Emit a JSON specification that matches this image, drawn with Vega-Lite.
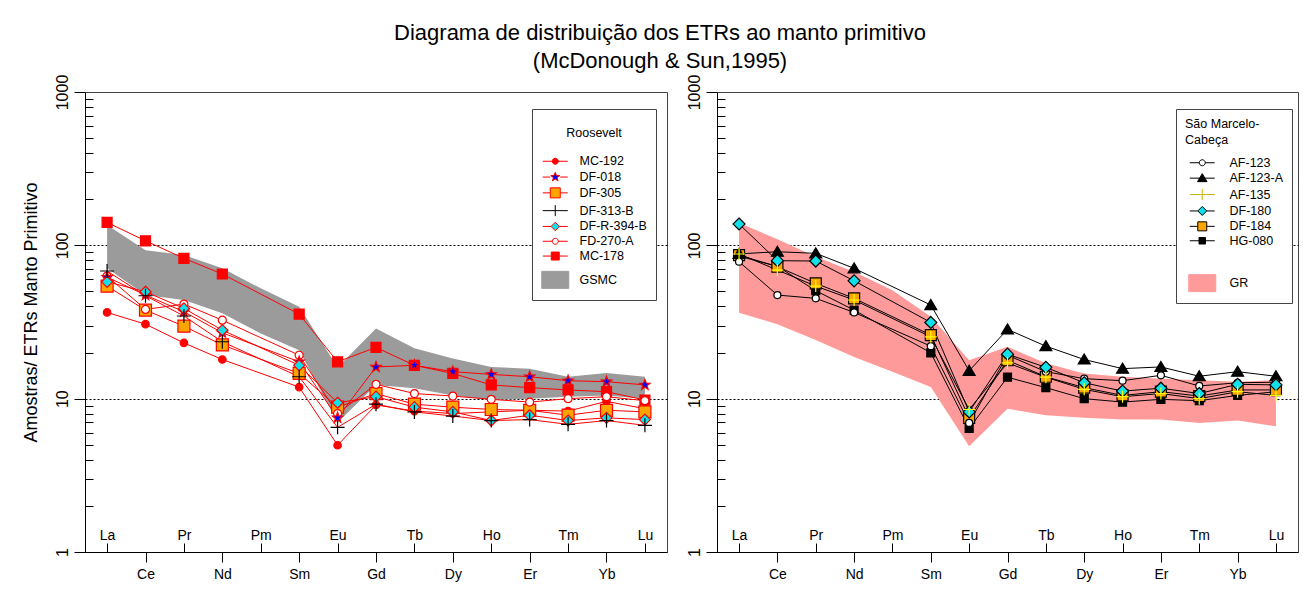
{
  "$schema": "https://vega.github.io/schema/vega-lite/v6.json",
  "autosize": {"type": "pad"},
  "padding": {"left": 21, "top": 21, "right": 0, "bottom": 0},
  "background": "white",
  "bounds": "flush",
  "spacing": 50,
  "title": {
    "text": ["Diagrama de distribuição dos ETRs ao manto primitivo", "(McDonough & Sun,1995)"],
    "fontSize": 22, "font": "Liberation Sans", "fontWeight": "normal", "color": "#000",
    "lineHeight": 28, "anchor": "middle", "dx": 0, "offset": 1
  },
  "config": {
    "view": {"stroke": "#444", "strokeWidth": 1},
    "axis": {"labelFont": "Liberation Sans", "titleFont": "Liberation Sans", "labelColor": "#000", "titleColor": "#000", "domainColor": "#000", "tickColor": "#000"},
    "legend": {"labelFont": "Liberation Sans", "titleFont": "Liberation Sans", "labelColor": "#000", "titleColor": "#000", "labelFontSize": 12.5, "titleFontSize": 12.5, "titleFontWeight": "normal", "symbolSize": 100, "symbolStrokeWidth": 1}
  },
  "datasets": {
    "roo": [
      {"sample":"MC-178","el":"La","v":141},{"sample":"MC-178","el":"Ce","v":107},{"sample":"MC-178","el":"Pr","v":82.3},{"sample":"MC-178","el":"Nd","v":65},{"sample":"MC-178","el":"Sm","v":35.6},{"sample":"MC-178","el":"Eu","v":17.4},{"sample":"MC-178","el":"Gd","v":21.6},{"sample":"MC-178","el":"Tb","v":16.5},{"sample":"MC-178","el":"Dy","v":14.6},{"sample":"MC-178","el":"Ho","v":12.3},{"sample":"MC-178","el":"Er","v":11.8},{"sample":"MC-178","el":"Tm","v":11.4},{"sample":"MC-178","el":"Yb","v":11.1},{"sample":"MC-178","el":"Lu","v":9.8},
      {"sample":"MC-192","el":"La","v":36.5},{"sample":"MC-192","el":"Ce","v":30.6},{"sample":"MC-192","el":"Pr","v":23.1},{"sample":"MC-192","el":"Nd","v":18},{"sample":"MC-192","el":"Sm","v":11.9},{"sample":"MC-192","el":"Eu","v":4.97},{"sample":"MC-192","el":"Gd","v":9.1},{"sample":"MC-192","el":"Tb","v":8.3},{"sample":"MC-192","el":"Dy","v":8.0},{"sample":"MC-192","el":"Ho","v":8.2},{"sample":"MC-192","el":"Er","v":8.4},{"sample":"MC-192","el":"Tm","v":8.3},{"sample":"MC-192","el":"Yb","v":9.6},{"sample":"MC-192","el":"Lu","v":8.6},
      {"sample":"DF-305","el":"La","v":54.2},{"sample":"DF-305","el":"Ce","v":37.8},{"sample":"DF-305","el":"Pr","v":29.7},{"sample":"DF-305","el":"Nd","v":22.4},{"sample":"DF-305","el":"Sm","v":14.6},{"sample":"DF-305","el":"Eu","v":8.8},{"sample":"DF-305","el":"Gd","v":10.8},{"sample":"DF-305","el":"Tb","v":9.2},{"sample":"DF-305","el":"Dy","v":8.8},{"sample":"DF-305","el":"Ho","v":8.5},{"sample":"DF-305","el":"Er","v":8.4},{"sample":"DF-305","el":"Tm","v":7.8},{"sample":"DF-305","el":"Yb","v":8.4},{"sample":"DF-305","el":"Lu","v":8.2},
      {"sample":"FD-270-A","el":"La","v":63},{"sample":"FD-270-A","el":"Ce","v":38.2},{"sample":"FD-270-A","el":"Pr","v":41.4},{"sample":"FD-270-A","el":"Nd","v":32.5},{"sample":"FD-270-A","el":"Sm","v":19.2},{"sample":"FD-270-A","el":"Eu","v":8.0},{"sample":"FD-270-A","el":"Gd","v":12.4},{"sample":"FD-270-A","el":"Tb","v":10.8},{"sample":"FD-270-A","el":"Dy","v":10.4},{"sample":"FD-270-A","el":"Ho","v":9.9},{"sample":"FD-270-A","el":"Er","v":9.5},{"sample":"FD-270-A","el":"Tm","v":10.0},{"sample":"FD-270-A","el":"Yb","v":10.3},{"sample":"FD-270-A","el":"Lu","v":9.7},
      {"sample":"DF-018","el":"La","v":62},{"sample":"DF-018","el":"Ce","v":47.4},{"sample":"DF-018","el":"Pr","v":36.9},{"sample":"DF-018","el":"Nd","v":26.9},{"sample":"DF-018","el":"Sm","v":17.4},{"sample":"DF-018","el":"Eu","v":7.5},{"sample":"DF-018","el":"Gd","v":16.1},{"sample":"DF-018","el":"Tb","v":16.5},{"sample":"DF-018","el":"Dy","v":15.0},{"sample":"DF-018","el":"Ho","v":14.4},{"sample":"DF-018","el":"Er","v":13.9},{"sample":"DF-018","el":"Tm","v":13.1},{"sample":"DF-018","el":"Yb","v":12.9},{"sample":"DF-018","el":"Lu","v":12.3},
      {"sample":"DF-R-394-B","el":"La","v":57.8},{"sample":"DF-R-394-B","el":"Ce","v":49.8},{"sample":"DF-R-394-B","el":"Pr","v":38.8},{"sample":"DF-R-394-B","el":"Nd","v":28},{"sample":"DF-R-394-B","el":"Sm","v":16.5},{"sample":"DF-R-394-B","el":"Eu","v":9.4},{"sample":"DF-R-394-B","el":"Gd","v":10.3},{"sample":"DF-R-394-B","el":"Tb","v":8.8},{"sample":"DF-R-394-B","el":"Dy","v":8.2},{"sample":"DF-R-394-B","el":"Ho","v":7.2},{"sample":"DF-R-394-B","el":"Er","v":7.8},{"sample":"DF-R-394-B","el":"Tm","v":7.2},{"sample":"DF-R-394-B","el":"Yb","v":7.5},{"sample":"DF-R-394-B","el":"Lu","v":7.3},
      {"sample":"DF-313-B","el":"La","v":68},{"sample":"DF-313-B","el":"Ce","v":46.9},{"sample":"DF-313-B","el":"Pr","v":34.6},{"sample":"DF-313-B","el":"Nd","v":23.5},{"sample":"DF-313-B","el":"Sm","v":13.9},{"sample":"DF-313-B","el":"Eu","v":6.5},{"sample":"DF-313-B","el":"Gd","v":9.2},{"sample":"DF-313-B","el":"Tb","v":8.2},{"sample":"DF-313-B","el":"Dy","v":7.7},{"sample":"DF-313-B","el":"Ho","v":7.2},{"sample":"DF-313-B","el":"Er","v":7.3},{"sample":"DF-313-B","el":"Tm","v":6.8},{"sample":"DF-313-B","el":"Yb","v":7.2},{"sample":"DF-313-B","el":"Lu","v":6.7}
    ],
    "smc": [
      {"sample":"HG-080","el":"La","v":85},{"sample":"HG-080","el":"Ce","v":73},{"sample":"HG-080","el":"Pr","v":50.6},{"sample":"HG-080","el":"Nd","v":37.8},{"sample":"HG-080","el":"Sm","v":19.9},{"sample":"HG-080","el":"Eu","v":6.4},{"sample":"HG-080","el":"Gd","v":13.8},{"sample":"HG-080","el":"Tb","v":11.8},{"sample":"HG-080","el":"Dy","v":10.0},{"sample":"HG-080","el":"Ho","v":9.5},{"sample":"HG-080","el":"Er","v":9.9},{"sample":"HG-080","el":"Tm","v":9.7},{"sample":"HG-080","el":"Yb","v":10.5},{"sample":"HG-080","el":"Lu","v":11.1},
      {"sample":"DF-184","el":"La","v":86.4},{"sample":"DF-184","el":"Ce","v":72.5},{"sample":"DF-184","el":"Pr","v":56.5},{"sample":"DF-184","el":"Nd","v":45.1},{"sample":"DF-184","el":"Sm","v":26},{"sample":"DF-184","el":"Eu","v":7.5},{"sample":"DF-184","el":"Gd","v":17.8},{"sample":"DF-184","el":"Tb","v":13.9},{"sample":"DF-184","el":"Dy","v":11.8},{"sample":"DF-184","el":"Ho","v":10.5},{"sample":"DF-184","el":"Er","v":11.1},{"sample":"DF-184","el":"Tm","v":10.4},{"sample":"DF-184","el":"Yb","v":11.4},{"sample":"DF-184","el":"Lu","v":11.4},
      {"sample":"AF-123-A","el":"La","v":88},{"sample":"AF-123-A","el":"Ce","v":90.8},{"sample":"AF-123-A","el":"Pr","v":88.7},{"sample":"AF-123-A","el":"Nd","v":70.8},{"sample":"AF-123-A","el":"Sm","v":40.8},{"sample":"AF-123-A","el":"Eu","v":15.2},{"sample":"AF-123-A","el":"Gd","v":28.3},{"sample":"AF-123-A","el":"Tb","v":22},{"sample":"AF-123-A","el":"Dy","v":18},{"sample":"AF-123-A","el":"Ho","v":15.7},{"sample":"AF-123-A","el":"Er","v":16.1},{"sample":"AF-123-A","el":"Tm","v":14},{"sample":"AF-123-A","el":"Yb","v":15},{"sample":"AF-123-A","el":"Lu","v":14},
      {"sample":"AF-123","el":"La","v":78.2},{"sample":"AF-123","el":"Ce","v":47.4},{"sample":"AF-123","el":"Pr","v":45.1},{"sample":"AF-123","el":"Nd","v":36.5},{"sample":"AF-123","el":"Sm","v":22},{"sample":"AF-123","el":"Eu","v":6.95},{"sample":"AF-123","el":"Gd","v":19.2},{"sample":"AF-123","el":"Tb","v":15},{"sample":"AF-123","el":"Dy","v":13.5},{"sample":"AF-123","el":"Ho","v":13.1},{"sample":"AF-123","el":"Er","v":14.2},{"sample":"AF-123","el":"Tm","v":12.1},{"sample":"AF-123","el":"Yb","v":12.7},{"sample":"AF-123","el":"Lu","v":12.8},
      {"sample":"DF-180","el":"La","v":137.8},{"sample":"DF-180","el":"Ce","v":79.4},{"sample":"DF-180","el":"Pr","v":79},{"sample":"DF-180","el":"Nd","v":58.7},{"sample":"DF-180","el":"Sm","v":31.4},{"sample":"DF-180","el":"Eu","v":8.2},{"sample":"DF-180","el":"Gd","v":19.5},{"sample":"DF-180","el":"Tb","v":16},{"sample":"DF-180","el":"Dy","v":12.7},{"sample":"DF-180","el":"Ho","v":11.2},{"sample":"DF-180","el":"Er","v":11.7},{"sample":"DF-180","el":"Tm","v":10.8},{"sample":"DF-180","el":"Yb","v":12.4},{"sample":"DF-180","el":"Lu","v":12.3},
      {"sample":"AF-135","el":"La","v":87.8},{"sample":"AF-135","el":"Ce","v":69},{"sample":"AF-135","el":"Pr","v":54.2},{"sample":"AF-135","el":"Nd","v":44},{"sample":"AF-135","el":"Sm","v":25.3},{"sample":"AF-135","el":"Eu","v":8.5},{"sample":"AF-135","el":"Gd","v":17.1},{"sample":"AF-135","el":"Tb","v":13.8},{"sample":"AF-135","el":"Dy","v":11.5},{"sample":"AF-135","el":"Ho","v":10.3},{"sample":"AF-135","el":"Er","v":10.8},{"sample":"AF-135","el":"Tm","v":10},{"sample":"AF-135","el":"Yb","v":11.1},{"sample":"AF-135","el":"Lu","v":10.5}
    ],
    "gsmc": [
      {"el":"La","lo":70.8,"hi":135.7},{"el":"Ce","lo":47.4,"hi":93},{"el":"Pr","lo":44,"hi":86.4},{"el":"Nd","lo":36,"hi":70.8},{"el":"Pm","lo":26.6,"hi":52.4},{"el":"Sm","lo":20.7,"hi":39.7},{"el":"Eu","lo":7.0,"hi":16},{"el":"Gd","lo":12.3,"hi":28.7},{"el":"Tb","lo":11.7,"hi":21.3},{"el":"Dy","lo":10.5,"hi":18.3},{"el":"Ho","lo":9.8,"hi":16.1},{"el":"Er","lo":10,"hi":15.7},{"el":"Tm","lo":10.3,"hi":13.9},{"el":"Yb","lo":10.5,"hi":14.7},{"el":"Lu","lo":10,"hi":13.9}
    ],
    "gr": [
      {"el":"La","lo":36.3,"hi":140.4},{"el":"Ce","lo":30.6,"hi":109.4},{"el":"Pr","lo":24.1,"hi":84.2},{"el":"Nd","lo":18.7,"hi":67.3},{"el":"Pm","lo":15,"hi":51},{"el":"Sm","lo":11.9,"hi":34.2},{"el":"Eu","lo":4.9,"hi":17.8},{"el":"Gd","lo":8.6,"hi":21.8},{"el":"Tb","lo":7.8,"hi":17},{"el":"Dy","lo":7.5,"hi":14.6},{"el":"Ho","lo":7.3,"hi":13.9},{"el":"Er","lo":7.3,"hi":13.5},{"el":"Tm","lo":6.95,"hi":13.2},{"el":"Yb","lo":7.2,"hi":12.9},{"el":"Lu","lo":6.6,"hi":13.2}
    ]
  },
  "hconcat": [
    {
      "width": 582, "height": 460,
      "layer": [
        {
          "data": {"name": "gsmc"},
          "mark": {"type": "area", "color": "#9b9b9b", "opacity": 1},
          "encoding": {
            "x": {"field": "el", "type": "ordinal", "sort": ["La","Ce","Pr","Nd","Pm","Sm","Eu","Gd","Tb","Dy","Ho","Er","Tm","Yb","Lu"],
              "scale": {"type": "point", "domain": ["La","Ce","Pr","Nd","Pm","Sm","Eu","Gd","Tb","Dy","Ho","Er","Tm","Yb","Lu"], "padding": 0.575},
              "axis": {"title": null, "labelAngle": 0, "labelFontSize": 14, "labelBaseline": "alphabetic", "grid": false,
                "tickSize": {"condition": {"test": "indexof(['La','Pr','Pm','Eu','Tb','Ho','Tm','Lu'], datum.value) >= 0", "value": -9}, "value": 10},
                "labelPadding": {"condition": {"test": "indexof(['La','Pr','Pm','Eu','Tb','Ho','Tm','Lu'], datum.value) >= 0", "value": -4}, "value": 16}}},
            "y": {"field": "lo", "type": "quantitative",
              "scale": {"type": "log", "domain": [1, 1000], "nice": false},
              "axis": {"title": "Amostras/ ETRs Manto Primitivo", "titleFontSize": 18, "titleFontWeight": "normal", "titleAngle": 270, "titleX": -49, "titleY": 220, "titleAlign": "center", "titleBaseline": "alphabetic",
                "values": [1,2,3,4,5,6,7,8,9,10,20,30,40,50,60,70,80,90,100,200,300,400,500,600,700,800,900,1000],
                "labelExpr": "(datum.value==1||datum.value==10||datum.value==100||datum.value==1000) ? datum.value + '' : ''",
                "labelAngle": 270, "labelAlign": "center", "labelBaseline": "alphabetic", "labelFontSize": 16, "labelPadding": 7, "labelFlush": false, "labelOverlap": false, "labelBound": false,
                "tickSize": {"condition": {"test": "datum.value==1||datum.value==10||datum.value==100||datum.value==1000", "value": 11}, "value": -8},
                "grid": true, "gridColor": "#000", "gridDash": [2, 2], "gridWidth": 1,
                "gridOpacity": {"condition": {"test": "datum.value==10||datum.value==100", "value": 1}, "value": 0}}},
            "y2": {"field": "hi"}
          }
        },
        {
          "data": {"name": "roo"},
          "mark": {"type": "line", "color": "#ff0000", "strokeWidth": 1},
          "encoding": {
            "x": {"field": "el", "type": "ordinal", "sort": ["La","Ce","Pr","Nd","Pm","Sm","Eu","Gd","Tb","Dy","Ho","Er","Tm","Yb","Lu"]},
            "y": {"field": "v", "type": "quantitative"},
            "detail": {"field": "sample"}
          }
        },
        {
          "data": {"name": "roo"},
          "mark": {"type": "point", "filled": true, "opacity": 1, "size": 100, "strokeWidth": 1.2},
          "encoding": {
            "x": {"field": "el", "type": "ordinal", "sort": ["La","Ce","Pr","Nd","Pm","Sm","Eu","Gd","Tb","Dy","Ho","Er","Tm","Yb","Lu"]},
            "y": {"field": "v", "type": "quantitative"},
            "shape": {"field": "sample", "type": "nominal", "legend": null, "scale": {"domain": ["MC-192","DF-018","DF-305","DF-313-B","DF-R-394-B","FD-270-A","MC-178"],
              "range": ["M-0.75,0A0.75,0.75 0 1,0 0.75,0A0.75,0.75 0 1,0 -0.75,0Z",
                "M0,-1.1L0.27,-0.372L1.046,-0.34L0.437,0.142L0.647,0.89L0,0.46L-0.647,0.89L-0.437,0.142L-1.046,-0.34L-0.27,-0.372Z",
                "M-1.2,-1.2H1.2V1.2H-1.2Z",
                "M-1.4,0H1.4M0,-1.4V1.4",
                "M0,-1.1L1.1,0L0,1.1L-1.1,0Z",
                "M-0.8,0A0.8,0.8 0 1,0 0.8,0A0.8,0.8 0 1,0 -0.8,0Z",
                "M-1,-1H1V1H-1Z"]}},
            "fill": {"field": "sample", "type": "nominal", "legend": null, "scale": {"domain": ["MC-192","DF-018","DF-305","DF-313-B","DF-R-394-B","FD-270-A","MC-178"],
              "range": ["#ff0000","#0000ff","#ffa500","transparent","#10e0ea","#ffffff","#ff0000"]}},
            "stroke": {"field": "sample", "type": "nominal", "legend": null, "scale": {"domain": ["MC-192","DF-018","DF-305","DF-313-B","DF-R-394-B","FD-270-A","MC-178"],
              "range": ["#ff0000","#ff0000","#ff0000","#000000","#ff0000","#ff0000","#ff0000"]}}
          }
        },
        {
          "data": {"name": "roo"},
          "transform": [{"filter": "false"}],
          "mark": {"type": "point", "filled": true, "opacity": 1, "size": 100, "strokeWidth": 1},
          "encoding": {
            "shape": {"field": "sample", "type": "nominal",
              "scale": {"domain": ["MC-192","DF-018","DF-305","DF-313-B","DF-R-394-B","FD-270-A","MC-178","GSMC"],
                "range": ["M-2.5,0H2.5M-0.6,0A0.6,0.6 0 1,0 0.6,0A0.6,0.6 0 1,0 -0.6,0Z",
                  "M-2.5,0H-1M1,0H2.5M0,-0.95L0.23,-0.32L0.9,-0.29L0.37,0.12L0.56,0.77L0,0.4L-0.56,0.77L-0.37,0.12L-0.9,-0.29L-0.23,-0.32Z",
                  "M-2.5,0H-1M1,0H2.5M-1,-1H1V1H-1Z",
                  "M-2.5,0H2.5M0,-1.1V1.1",
                  "M-2.5,0H-0.85M0.85,0H2.5M0,-0.85L0.85,0L0,0.85L-0.85,0Z",
                  "M-2.5,0H-0.6M0.6,0H2.5M-0.6,0A0.6,0.6 0 1,0 0.6,0A0.6,0.6 0 1,0 -0.6,0Z",
                  "M-2.5,0H-0.8M0.8,0H2.5M-0.8,-0.8H0.8V0.8H-0.8Z",
                  "M0,-2.5M-2.7,-1.7H2.7V1.7H-2.7Z"]},
              "legend": {"title": ["", "Roosevelt"], "orient": "none", "legendX": 447, "legendY": 17, "titleAnchor": "middle", "titleLineHeight": 8.5, "titlePadding": 16, "padding": 9, "rowPadding": 1.8, "symbolOffset": 8, "labelOffset": 18, "strokeColor": "#444", "fillColor": "#ffffff"}},
            "fill": {"field": "sample", "type": "nominal",
              "scale": {"domain": ["MC-192","DF-018","DF-305","DF-313-B","DF-R-394-B","FD-270-A","MC-178","GSMC"],
                "range": ["#ff0000","#0000ff","#ffa500","transparent","#10e0ea","#ffffff","#ff0000","#9b9b9b"]},
              "legend": {"title": ["", "Roosevelt"], "orient": "none", "legendX": 447, "legendY": 17, "titleAnchor": "middle", "titleLineHeight": 8.5, "titlePadding": 16, "padding": 9, "rowPadding": 1.8, "symbolOffset": 8, "labelOffset": 18, "strokeColor": "#444", "fillColor": "#ffffff"}},
            "stroke": {"field": "sample", "type": "nominal",
              "scale": {"domain": ["MC-192","DF-018","DF-305","DF-313-B","DF-R-394-B","FD-270-A","MC-178","GSMC"],
                "range": ["#ff0000","#ff0000","#ff0000","#000000","#ff0000","#ff0000","#ff0000","#9b9b9b"]},
              "legend": {"title": ["", "Roosevelt"], "orient": "none", "legendX": 447, "legendY": 17, "titleAnchor": "middle", "titleLineHeight": 8.5, "titlePadding": 16, "padding": 9, "rowPadding": 1.8, "symbolOffset": 8, "labelOffset": 18, "strokeColor": "#444", "fillColor": "#ffffff"}}
          }
        }
      ],
      "resolve": {"scale": {"shape": "independent", "fill": "independent", "stroke": "independent"}}
    },
    {
      "width": 581, "height": 460,
      "layer": [
        {
          "data": {"name": "gr"},
          "mark": {"type": "area", "color": "#ff9a9a", "opacity": 1},
          "encoding": {
            "x": {"field": "el", "type": "ordinal", "sort": ["La","Ce","Pr","Nd","Pm","Sm","Eu","Gd","Tb","Dy","Ho","Er","Tm","Yb","Lu"],
              "scale": {"type": "point", "domain": ["La","Ce","Pr","Nd","Pm","Sm","Eu","Gd","Tb","Dy","Ho","Er","Tm","Yb","Lu"], "padding": 0.575},
              "axis": {"title": null, "labelAngle": 0, "labelFontSize": 14, "labelBaseline": "alphabetic", "grid": false,
                "tickSize": {"condition": {"test": "indexof(['La','Pr','Pm','Eu','Tb','Ho','Tm','Lu'], datum.value) >= 0", "value": -9}, "value": 10},
                "labelPadding": {"condition": {"test": "indexof(['La','Pr','Pm','Eu','Tb','Ho','Tm','Lu'], datum.value) >= 0", "value": -4}, "value": 16}}},
            "y": {"field": "lo", "type": "quantitative",
              "scale": {"type": "log", "domain": [1, 1000], "nice": false},
              "axis": {"title": null,
                "values": [1,2,3,4,5,6,7,8,9,10,20,30,40,50,60,70,80,90,100,200,300,400,500,600,700,800,900,1000],
                "labelExpr": "(datum.value==1||datum.value==10||datum.value==100||datum.value==1000) ? datum.value + '' : ''",
                "labelAngle": 270, "labelAlign": "center", "labelBaseline": "alphabetic", "labelFontSize": 16, "labelPadding": 7, "labelFlush": false, "labelOverlap": false, "labelBound": false,
                "tickSize": {"condition": {"test": "datum.value==1||datum.value==10||datum.value==100||datum.value==1000", "value": 11}, "value": -8},
                "grid": true, "gridColor": "#000", "gridDash": [2, 2], "gridWidth": 1,
                "gridOpacity": {"condition": {"test": "datum.value==10||datum.value==100", "value": 1}, "value": 0}}},
            "y2": {"field": "hi"}
          }
        },
        {
          "data": {"name": "smc"},
          "mark": {"type": "line", "color": "#000000", "strokeWidth": 1},
          "encoding": {
            "x": {"field": "el", "type": "ordinal", "sort": ["La","Ce","Pr","Nd","Pm","Sm","Eu","Gd","Tb","Dy","Ho","Er","Tm","Yb","Lu"]},
            "y": {"field": "v", "type": "quantitative"},
            "detail": {"field": "sample"}
          }
        },
        {
          "data": {"name": "smc"},
          "mark": {"type": "point", "filled": true, "opacity": 1, "size": 100, "strokeWidth": 1.2},
          "encoding": {
            "x": {"field": "el", "type": "ordinal", "sort": ["La","Ce","Pr","Nd","Pm","Sm","Eu","Gd","Tb","Dy","Ho","Er","Tm","Yb","Lu"]},
            "y": {"field": "v", "type": "quantitative"},
            "shape": {"field": "sample", "type": "nominal", "legend": null, "scale": {"domain": ["AF-123","AF-123-A","AF-135","DF-180","DF-184","HG-080"],
              "range": ["M-0.7,0A0.7,0.7 0 1,0 0.7,0A0.7,0.7 0 1,0 -0.7,0Z",
                "M0,-1.1L1.2,0.9L-1.2,0.9Z",
                "M-1.2,0H1.2M0,-1.2V1.2",
                "M0,-1.2L1.2,0L0,1.2L-1.2,0Z",
                "M-1.1,-1.1H1.1V1.1H-1.1Z",
                "M-0.8,-0.8H0.8V0.8H-0.8Z"]}},
            "fill": {"field": "sample", "type": "nominal", "legend": null, "scale": {"domain": ["AF-123","AF-123-A","AF-135","DF-180","DF-184","HG-080"],
              "range": ["#ffffff","#000000","transparent","#10e0ea","#ffa500","#000000"]}},
            "stroke": {"field": "sample", "type": "nominal", "legend": null, "scale": {"domain": ["AF-123","AF-123-A","AF-135","DF-180","DF-184","HG-080"],
              "range": ["#000000","#000000","#ffff00","#000000","#000000","#000000"]}}
          }
        },
        {
          "data": {"name": "smc"},
          "transform": [{"filter": "false"}],
          "mark": {"type": "point", "filled": true, "opacity": 1, "size": 100, "strokeWidth": 1},
          "encoding": {
            "shape": {"field": "sample", "type": "nominal",
              "scale": {"domain": ["AF-123","AF-123-A","AF-135","DF-180","DF-184","HG-080","GR"],
                "range": ["M-2.5,0H-0.6M0.6,0H2.5M-0.6,0A0.6,0.6 0 1,0 0.6,0A0.6,0.6 0 1,0 -0.6,0Z",
                  "M-2.5,0H2.5M0,-0.9L0.95,0.7L-0.95,0.7Z",
                  "M-2.5,0H2.5M0,-1.1V1.1",
                  "M-2.5,0H-0.9M0.9,0H2.5M0,-0.9L0.9,0L0,0.9L-0.9,0Z",
                  "M-2.5,0H-0.9M0.9,0H2.5M-0.9,-0.9H0.9V0.9H-0.9Z",
                  "M-2.5,0H2.5M-0.65,-0.65H0.65V0.65H-0.65Z",
                  "M0,-6.27M-2.7,-1.7H2.7V1.7H-2.7Z"]},
              "legend": {"title": ["São Marcelo-", "Cabeça"], "orient": "none", "legendX": 459, "legendY": 17, "titleAnchor": "start", "titleLineHeight": 16, "titlePadding": 10, "padding": 9, "rowPadding": 1.4, "symbolOffset": 11, "labelOffset": 21, "strokeColor": "#444", "fillColor": "#ffffff"}},
            "fill": {"field": "sample", "type": "nominal",
              "scale": {"domain": ["AF-123","AF-123-A","AF-135","DF-180","DF-184","HG-080","GR"],
                "range": ["#ffffff","#000000","transparent","#10e0ea","#ffa500","#000000","#ff9a9a"]},
              "legend": {"title": ["São Marcelo-", "Cabeça"], "orient": "none", "legendX": 459, "legendY": 17, "titleAnchor": "start", "titleLineHeight": 16, "titlePadding": 10, "padding": 9, "rowPadding": 1.4, "symbolOffset": 11, "labelOffset": 21, "strokeColor": "#444", "fillColor": "#ffffff"}},
            "stroke": {"field": "sample", "type": "nominal",
              "scale": {"domain": ["AF-123","AF-123-A","AF-135","DF-180","DF-184","HG-080","GR"],
                "range": ["#000000","#000000","#c8b400","#000000","#000000","#000000","#ff9a9a"]},
              "legend": {"title": ["São Marcelo-", "Cabeça"], "orient": "none", "legendX": 459, "legendY": 17, "titleAnchor": "start", "titleLineHeight": 16, "titlePadding": 10, "padding": 9, "rowPadding": 1.4, "symbolOffset": 11, "labelOffset": 21, "strokeColor": "#444", "fillColor": "#ffffff"}}
          }
        }
      ],
      "resolve": {"scale": {"shape": "independent", "fill": "independent", "stroke": "independent"}}
    }
  ]
}
